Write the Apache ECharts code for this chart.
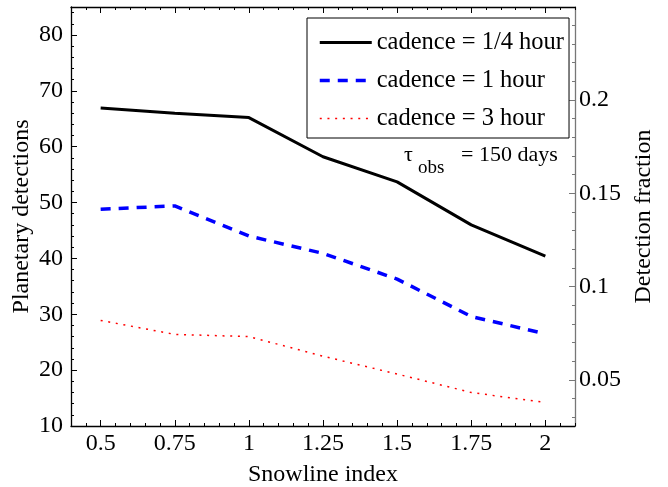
<!DOCTYPE html>
<html>
<head>
<meta charset="utf-8">
<script src="https://cdn.jsdelivr.net/npm/echarts@6/dist/echarts.min.js"></script>
<style>
html,body{margin:0;padding:0;background:#fff;}
#chart{width:668px;height:487px;}
</style>
</head>
<body>
<div id="chart"></div>
<script>
// ---- data ----
const snowline = [0.5, 0.75, 1, 1.25, 1.5, 1.75, 2];
const cadenceQuarter = [66.9, 66.0, 65.2, 58.2, 53.7, 46.0, 40.4];
const cadenceOne = [48.8, 49.4, 44.0, 40.9, 36.3, 29.6, 26.5];
const cadenceThree = [28.9, 26.4, 26.0, 22.5, 19.3, 16.0, 14.2];
const seriesNames = ['cadence = 1/4 hour', 'cadence = 1 hour', 'cadence = 3 hour'];
const xTicks = [0.5, 0.75, 1, 1.25, 1.5, 1.75, 2];
const xTickLabels = ['0.5', '0.75', '1', '1.25', '1.5', '1.75', '2'];
const leftTicks = [10, 20, 30, 40, 50, 60, 70, 80];
const rightTicks = [0.05, 0.1, 0.15, 0.2];
const rightMinorTicks = [0.03, 0.04, 0.05, 0.06, 0.07, 0.08, 0.09, 0.1, 0.11, 0.12, 0.13, 0.14, 0.15, 0.16, 0.17, 0.18, 0.19, 0.2, 0.21, 0.22, 0.23, 0.24];
const xTitle = 'Snowline index';
const leftTitle = 'Planetary detections';
const rightTitle = 'Detection fraction';

const FONT = 'Liberation Serif';
const FS = 24;
const pairs = arr => snowline.map((x, i) => [x, arr[i]]);

const chart = echarts.init(document.getElementById('chart'), null, {renderer: 'canvas'});
const xMin = 0.4, xMax = 2.1, yMin = 10, yMax = 85, rMin = 0.0254, rMax = 0.2498;

const baseX = {
  type: 'value', min: xMin, max: xMax, splitLine: {show: false},
  axisLine: {show: false}, axisLabel: {show: false}, axisTick: {show: false}
};
const baseY = {
  type: 'value', splitLine: {show: false},
  axisLine: {show: false}, axisLabel: {show: false}, axisTick: {show: false}
};

const lineStyles = [
  {color: '#000', width: 3, type: 'solid'},
  {color: '#0000ff', width: 3.5, type: [10, 8]},
  {color: '#ff0000', width: 1.5, type: [2, 5.7]}
];

const option = {
  backgroundColor: '#fff',
  animation: false,
  grid: {left: 71, top: 7, right: 93, bottom: 61, containLabel: false, outerBoundsMode: 'none'},
  xAxis: [
    Object.assign({}, baseX, {
      position: 'bottom',
      name: xTitle, nameLocation: 'middle', nameGap: 37, nameMoveOverlap: false,
      nameTextStyle: {fontFamily: FONT, fontSize: FS, color: '#000'},
      axisLine: {show: true, onZero: false, lineStyle: {color: '#000', width: 1.3}},
      axisTick: {show: true, inside: true, length: 6, customValues: xTicks, lineStyle: {color: '#000', width: 1}},
      axisLabel: {show: true, customValues: xTicks, margin: 6, fontFamily: FONT, fontSize: FS, color: '#000',
        formatter: v => { const i = xTicks.findIndex(t => Math.abs(t - v) < 1e-6); return i >= 0 ? xTickLabels[i] : ''; }}
    }),
    Object.assign({}, baseX, {
      position: 'bottom', interval: 0.05,
      axisTick: {show: true, inside: true, length: 3, lineStyle: {color: '#000', width: 1}}
    }),
    Object.assign({}, baseX, {
      position: 'top',
      axisLine: {show: true, onZero: false, lineStyle: {color: '#000', width: 1.3}},
      axisTick: {show: true, inside: true, length: 6, customValues: xTicks, lineStyle: {color: '#000', width: 1}}
    }),
    Object.assign({}, baseX, {
      position: 'top', interval: 0.05,
      axisTick: {show: true, inside: true, length: 3, lineStyle: {color: '#000', width: 1}}
    })
  ],
  yAxis: [
    Object.assign({}, baseY, {
      position: 'left', min: yMin, max: yMax,
      name: leftTitle, nameLocation: 'middle', nameGap: 37, nameRotate: 90, nameMoveOverlap: false,
      nameTextStyle: {fontFamily: FONT, fontSize: FS, color: '#000'},
      axisLine: {show: true, onZero: false, lineStyle: {color: '#000', width: 1.3}},
      axisTick: {show: true, inside: true, length: 6, customValues: leftTicks, lineStyle: {color: '#000', width: 1}},
      axisLabel: {show: true, customValues: leftTicks, margin: 8, fontFamily: FONT, fontSize: FS, color: '#000'}
    }),
    Object.assign({}, baseY, {
      position: 'left', min: yMin, max: yMax, interval: 2,
      axisTick: {show: true, inside: true, length: 3, lineStyle: {color: '#000', width: 1}}
    }),
    Object.assign({}, baseY, {
      position: 'right', min: rMin, max: rMax,
      name: rightTitle, nameLocation: 'middle', nameGap: 57, nameRotate: 90, nameMoveOverlap: false,
      nameTextStyle: {fontFamily: FONT, fontSize: FS, color: '#000'},
      axisLine: {show: true, onZero: false, lineStyle: {color: '#777', width: 1.3}},
      axisTick: {show: true, inside: true, length: 6, customValues: rightTicks, lineStyle: {color: '#777', width: 1}},
      axisLabel: {show: true, customValues: rightTicks, margin: 4, fontFamily: FONT, fontSize: FS, color: '#000',
        formatter: v => String(Math.round(v * 100) / 100)}
    }),
    Object.assign({}, baseY, {
      position: 'right', min: rMin, max: rMax,
      axisTick: {show: true, inside: true, length: 3, customValues: rightMinorTicks, lineStyle: {color: '#777', width: 1}}
    })
  ],
  legend: {
    orient: 'vertical', left: 307, top: 18,
    padding: [12, 5, 7, 11],
    itemWidth: 52, itemHeight: 14, itemGap: 13,
    backgroundColor: '#fff', borderColor: '#000', borderWidth: 1,
    itemStyle: {opacity: 0},
    textStyle: {fontFamily: FONT, fontSize: 24.5, color: '#000'},
    data: seriesNames.map((n, i) => ({name: n, lineStyle: Object.assign({}, lineStyles[i])}))
  },
  graphic: [
    {type: 'text', left: 404, top: 144, style: {text: 'τ', font: '22px "' + FONT + '"', fill: '#000'}},
    {type: 'text', left: 418, top: 159, style: {text: 'obs', font: '19px "' + FONT + '"', fill: '#000'}},
    {type: 'text', left: 461, top: 144, style: {text: '= 150 days', font: '22px "' + FONT + '"', fill: '#000'}}
  ],
  series: [
    {name: seriesNames[0], type: 'line', xAxisIndex: 0, yAxisIndex: 0, data: pairs(cadenceQuarter),
     symbol: 'none', lineStyle: lineStyles[0], itemStyle: {color: '#000'}},
    {name: seriesNames[1], type: 'line', xAxisIndex: 0, yAxisIndex: 0, data: pairs(cadenceOne),
     symbol: 'none', lineStyle: lineStyles[1], itemStyle: {color: '#0000ff'}},
    {name: seriesNames[2], type: 'line', xAxisIndex: 0, yAxisIndex: 0, data: pairs(cadenceThree),
     symbol: 'none', lineStyle: lineStyles[2], itemStyle: {color: '#ff0000'}}
  ]
};
chart.setOption(option);
</script>
</body>
</html>
